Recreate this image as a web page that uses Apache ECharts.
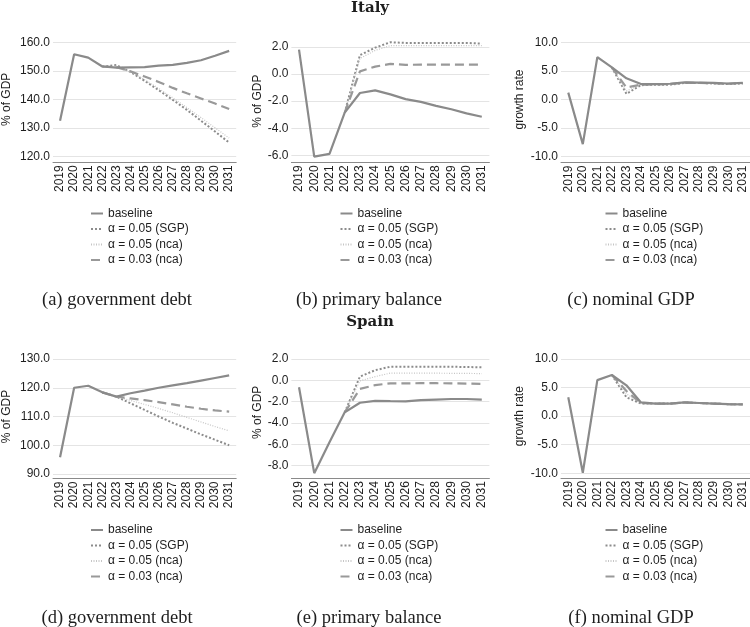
<!DOCTYPE html>
<html>
<head>
<meta charset="utf-8">
<title>Italy / Spain scenarios</title>
<script src="https://cdn.jsdelivr.net/npm/echarts@6/dist/echarts.min.js"></script>
<style>
  html, body { margin: 0; padding: 0; background: #fff; }
</style>
</head>
<body>
<div id="main" style="width: 750px; height: 627px;"></div>
<script>
// categories
const years = ['2019', '2020', '2021', '2022', '2023', '2024', '2025', '2026', '2027', '2028', '2029', '2030', '2031'];
const seriesNames = ['baseline', 'α = 0.05 (SGP)', 'α = 0.05 (nca)', 'α = 0.03 (nca)'];
const captions = ['(a) government debt', '(b) primary balance', '(c) nominal GDP',
                  '(d) government debt', '(e) primary balance', '(f) nominal GDP'];

// Italy - government debt (% of GDP)
const itDebtBase = [132.5, 155.8, 154.6, 151.5, 151.1, 151.2, 151.3, 151.8, 152.1, 152.8, 153.7, 155.3, 157.0];
const itDebtSgp  = [null, null, null, 151.5, 152.0, 149.6, 146.5, 143.2, 139.8, 136.3, 132.5, 128.7, 124.8];
const itDebtNca  = [null, null, null, 151.5, 151.6, 149.7, 146.9, 143.8, 140.5, 137.1, 133.6, 130.0, 126.4];
const itDebt03   = [null, null, null, 151.5, 151.3, 149.8, 148.0, 146.1, 144.0, 142.1, 140.3, 138.5, 136.6];

// Italy - primary balance (% of GDP)
const itPbBase = [1.8, -6.1, -5.9, -2.85, -1.4, -1.2, -1.5, -1.85, -2.05, -2.35, -2.6, -2.9, -3.15];
const itPbSgp  = [null, null, null, -2.85, 1.4, 1.95, 2.35, 2.3, 2.3, 2.3, 2.3, 2.3, 2.25];
const itPbNca  = [null, null, null, -2.85, 1.15, 1.75, 2.1, 2.1, 2.1, 2.1, 2.1, 2.1, 2.1];
const itPb03   = [null, null, null, -2.85, 0.2, 0.55, 0.75, 0.68, 0.7, 0.7, 0.7, 0.7, 0.7];

// Italy - nominal GDP growth rate
const itGdpBase = [1.2, -7.8, 7.4, 5.6, 3.7, 2.7, 2.7, 2.75, 3.0, 2.95, 2.9, 2.8, 2.9];
const itGdpSgp  = [null, null, null, 5.6, 1.0, 2.5, 2.6, 2.6, 2.9, 2.9, 2.8, 2.7, 2.8];
const itGdpNca  = [null, null, null, 5.6, 1.5, 2.55, 2.6, 2.65, 2.9, 2.9, 2.8, 2.75, 2.8];
const itGdp03   = [null, null, null, 5.6, 2.1, 2.6, 2.65, 2.7, 2.95, 2.9, 2.85, 2.75, 2.85];

// Spain - government debt (% of GDP)
const esDebtBase = [95.8, 120.0, 120.7, 118.4, 116.9, 118.1, 119.0, 120.0, 120.8, 121.6, 122.5, 123.4, 124.3];
const esDebtSgp  = [null, null, null, 118.4, 116.9, 114.6, 112.3, 110.0, 107.8, 105.8, 103.8, 101.9, 100.0];
const esDebtNca  = [null, null, null, 118.4, 116.9, 115.6, 114.2, 112.8, 111.3, 109.7, 108.1, 106.5, 105.0];
const esDebt03   = [null, null, null, 118.4, 116.9, 116.3, 115.7, 115.0, 114.2, 113.4, 112.7, 112.1, 111.7];

// Spain - primary balance (% of GDP)
const esPbBase = [-0.65, -8.7, -5.8, -3.0, -2.1, -1.92, -1.95, -1.97, -1.85, -1.8, -1.75, -1.75, -1.8];
const esPbSgp  = [null, null, null, -3.0, 0.35, 0.95, 1.28, 1.28, 1.28, 1.28, 1.27, 1.25, 1.22];
const esPbNca  = [null, null, null, -3.0, -0.05, 0.35, 0.68, 0.68, 0.68, 0.67, 0.66, 0.65, 0.63];
const esPb03   = [null, null, null, -3.0, -0.8, -0.45, -0.28, -0.28, -0.27, -0.27, -0.28, -0.3, -0.33];

// Spain - nominal GDP growth rate
const esGdpBase = [3.3, -9.9, 6.3, 7.2, 5.4, 2.4, 2.2, 2.2, 2.4, 2.3, 2.2, 2.1, 2.05];
const esGdpSgp  = [null, null, null, 7.2, 3.3, 2.2, 2.2, 2.2, 2.4, 2.3, 2.2, 2.1, 2.05];
const esGdpNca  = [null, null, null, 7.2, 3.9, 2.25, 2.2, 2.2, 2.4, 2.3, 2.2, 2.1, 2.05];
const esGdp03   = [null, null, null, 7.2, 4.4, 2.3, 2.2, 2.2, 2.4, 2.3, 2.2, 2.1, 2.05];

const panelData = [
  [itDebtBase, itDebtSgp, itDebtNca, itDebt03],
  [itPbBase, itPbSgp, itPbNca, itPb03],
  [itGdpBase, itGdpSgp, itGdpNca, itGdp03],
  [esDebtBase, esDebtSgp, esDebtNca, esDebt03],
  [esPbBase, esPbSgp, esPbNca, esPb03],
  [esGdpBase, esGdpSgp, esGdpNca, esGdp03]
];

// layout of each panel (pixels)
const panels = [
  { left: 48.8,  width: 187.4, top: 42.3, height: 114,   off: 6,    min: 120, max: 160, step: 10, name: '% of GDP',    gap: 40, legX: 90,    legY: 206.5, capX: 117, capY: 300 },
  { left: 291.4, width: 198,   top: 47,   height: 108.3, off: 7,    min: -6,  max: 2,   step: 2,  name: '% of GDP',    gap: 28, legX: 339.5, legY: 206.5, capX: 369, capY: 300 },
  { left: 561,   width: 190,   top: 42.3, height: 114.4, off: 6,    min: -10, max: 10,  step: 5,  name: 'growth rate', gap: 35, legX: 604.5, legY: 206.5, capX: 631, capY: 300 },
  { left: 48.8,  width: 187.4, top: 359,  height: 115,   off: 4.5,  min: 90,  max: 130, step: 10, name: '% of GDP',    gap: 40, legX: 90,    legY: 523,   capX: 117, capY: 618 },
  { left: 291.4, width: 198,   top: 359,  height: 106.7, off: 12.5, min: -8,  max: 2,   step: 2,  name: '% of GDP',    gap: 28, legX: 339.5, legY: 523,   capX: 369, capY: 618 },
  { left: 561,   width: 190,   top: 359,  height: 114.3, off: 4.5,  min: -10, max: 10,  step: 5,  name: 'growth rate', gap: 35, legX: 604.5, legY: 523,   capX: 631, capY: 618 }
];

const sans = 'Liberation Sans, Arial, sans-serif';
const serif = 'Liberation Serif, Times New Roman, serif';
const textColor = '#1e1e1e';

// line styles for the four scenarios
const lineStyles = [
  { color: '#8a8a8a', width: 2.2, type: 'solid' },
  { color: '#8c8c8c', width: 2,   type: [2, 2] },
  { color: '#c6c6c6', width: 1.2, type: [1, 1.5] },
  { color: '#999999', width: 2.2, type: [9, 5] }
];

const grids = [], xAxes = [], yAxes = [], series = [], legends = [], graphics = [];

panels.forEach(function (p, i) {
  grids.push({ left: p.left, top: p.top, width: p.width, height: p.height, containLabel: false });

  xAxes.push({
    gridIndex: i,
    type: 'category',
    data: years,
    boundaryGap: true,
    offset: p.off,
    axisLine: { onZero: false, lineStyle: { color: '#8a8a8a', width: 1 } },
    axisTick: { alignWithLabel: true, length: 3, lineStyle: { color: '#8a8a8a' } },
    axisLabel: { rotate: 90, margin: 3, interval: 0, fontFamily: sans, fontSize: 12, color: textColor },
    splitLine: { show: false }
  });

  yAxes.push({
    gridIndex: i,
    type: 'value',
    min: p.min,
    max: p.max,
    interval: p.step,
    name: p.name,
    nameLocation: 'middle',
    nameRotate: 90,
    nameGap: p.gap,
    nameTextStyle: { fontFamily: sans, fontSize: 12, color: textColor },
    axisLine: { show: false },
    axisTick: { show: false },
    axisLabel: { margin: 3, fontFamily: sans, fontSize: 12, color: textColor,
                 formatter: function (v) { return v.toFixed(1); } },
    splitLine: { lineStyle: { color: '#e4e4e4', width: 1 } }
  });

  // draw scenarios first, baseline on top
  [1, 2, 3, 0].forEach(function (k) {
    series.push({
      name: seriesNames[k],
      type: 'line',
      xAxisIndex: i,
      yAxisIndex: i,
      data: panelData[i][k],
      symbol: 'none',
      showSymbol: false,
      clip: false,
      z: k === 0 ? 5 : 3,
      lineStyle: lineStyles[k],
      itemStyle: { color: lineStyles[k].color }
    });
  });

  // legend icon: only the line, the symbol is made invisible
  legends.push({
    data: seriesNames,
    orient: 'vertical',
    left: p.legX,
    top: p.legY,
    itemWidth: 12,
    itemHeight: 8,
    itemGap: 1.5,
    padding: 0,
    selectedMode: false,
    itemStyle: { color: 'rgba(0,0,0,0)', borderColor: 'rgba(0,0,0,0)', borderWidth: 0 },
    textStyle: { fontFamily: sans, fontSize: 12, color: textColor, lineHeight: 14 }
  });

  graphics.push({
    type: 'text',
    x: p.capX,
    y: p.capY,
    style: { text: captions[i], font: '18.5px ' + serif, fill: textColor, textAlign: 'center', textVerticalAlign: 'middle' }
  });
});

// country headings
graphics.push({
  type: 'text', x: 370, y: 8,
  style: { text: 'Italy', font: 'bold 15px DejaVu Serif, serif', fill: textColor, textAlign: 'center', textVerticalAlign: 'middle' }
});
graphics.push({
  type: 'text', x: 370, y: 322,
  style: { text: 'Spain', font: 'bold 15px DejaVu Serif, serif', fill: textColor, textAlign: 'center', textVerticalAlign: 'middle' }
});

const chart = echarts.init(document.getElementById('main'));
chart.setOption({
  animation: false,
  backgroundColor: '#fff',
  grid: grids,
  xAxis: xAxes,
  yAxis: yAxes,
  legend: legends,
  series: series,
  graphic: graphics
});
</script>
</body>
</html>
